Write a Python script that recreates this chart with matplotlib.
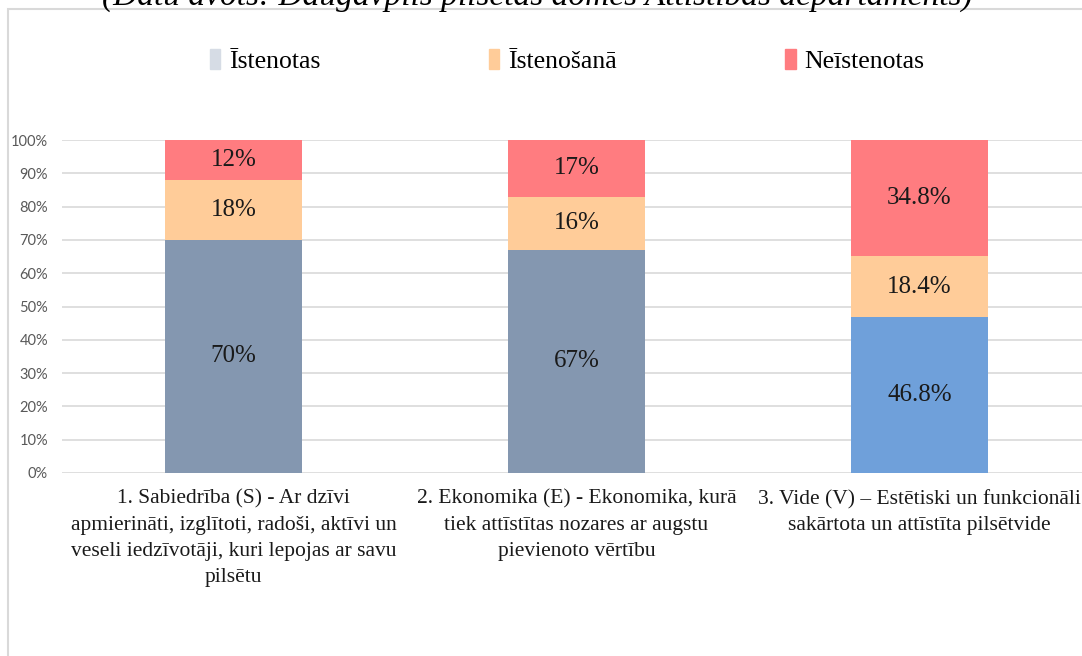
import matplotlib.pyplot as plt
from matplotlib.patches import Patch, Rectangle

# data
categories = [
    "1. Sabiedrība (S) - Ar dzīvi\napmierināti, izglītoti, radoši, aktīvi un\nveseli iedzīvotāji, kuri lepojas ar savu\npilsētu",
    "2. Ekonomika (E) - Ekonomika, kurā\ntiek attīstītas nozares ar augstu\npievienoto vērtību",
    "3. Vide (V) – Estētiski un funkcionāli\nsakārtota un attīstīta pilsētvide",
]
series_names = ["Īstenotas", "Īstenošanā", "Neīstenotas"]
istenotas = [70, 67, 46.8]
istenosana = [18, 16, 18.4]
neistenotas = [12, 17, 34.8]
value_labels = [
    ["70%", "67%", "46.8%"],
    ["18%", "16%", "18.4%"],
    ["12%", "17%", "34.8%"],
]
yticks = [0, 10, 20, 30, 40, 50, 60, 70, 80, 90, 100]
title = "(Datu avots: Daugavpils pilsētas domes Attīstības departaments)"

serif = "Liberation Serif"
W, H = 1082, 656
fig = plt.figure(figsize=(W / 100, H / 100), dpi=100)

# outer chart frame (runs off the right/bottom edge)
fig.patches.append(Rectangle((8 / W, -0.1), 1.2, 1 - 9 / H + 0.1, transform=fig.transFigure,
                             fill=False, edgecolor="#D9D9D9", linewidth=1.5))

# source note, clipped at the top like in the original screenshot
fig.text(0.497, 1 - 5 / H, title, ha="center", va="baseline", style="italic",
         family=serif, fontsize=24, color="#000000")

ax = fig.add_axes([62 / W, 1 - 473 / H, (1091 - 62) / W, (473 - 140) / H])
x = list(range(len(categories)))
bw = 0.4
c1 = ["#8497B0", "#8497B0", "#6FA0DA"]
c2 = "#FFCC99"
c3 = "#FF7C80"

b1 = ax.bar(x, istenotas, bw, color=c1)
bottom2 = istenotas
b2 = ax.bar(x, istenosana, bw, bottom=bottom2, color=c2)
bottom3 = [a + b for a, b in zip(istenotas, istenosana)]
b3 = ax.bar(x, neistenotas, bw, bottom=bottom3, color=c3)

for bars, labels in zip([b1, b2, b3], value_labels):
    ax.bar_label(bars, labels=labels, label_type="center", family=serif,
                 fontsize=18, color="#1a1a1a")

ax.set_xlim(-0.5, 2.5)
ax.set_ylim(0, 100)
ax.set_yticks(yticks)
ax.set_yticklabels([f"{t}%" for t in yticks], fontsize=10.5, color="#595959",
                   family="Lato")
ax.set_xticks(x)
ax.set_xticklabels(categories, family=serif, fontsize=15.5, linespacing=1.5,
                   color="#1a1a1a", va="top")
ax.tick_params(axis="both", length=0)
ax.tick_params(axis="x", pad=12)
ax.tick_params(axis="y", pad=10)
ax.grid(axis="y", color="#D9D9D9", linewidth=1.2)
ax.set_axisbelow(True)
for s in ax.spines.values():
    s.set_visible(False)

handles = [Patch(color="#D6DCE5"), Patch(color=c2), Patch(color=c3)]
fig.legend(handles, series_names, loc="center left", bbox_to_anchor=(187 / W, 1 - 61 / H),
           ncol=3, frameon=False, prop={"family": serif, "size": 18.5},
           handlelength=0.4, handleheight=0.8, handletextpad=0.35, columnspacing=6.55)

fig.savefig("out.png", dpi=100)
